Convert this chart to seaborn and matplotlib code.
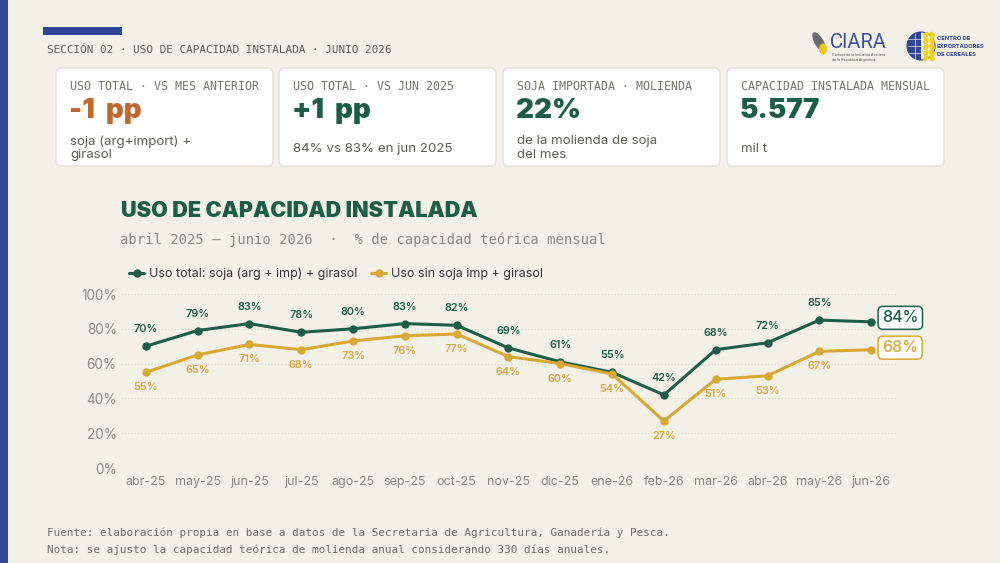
import matplotlib
matplotlib.use("Agg")
import matplotlib.pyplot as plt
import seaborn as sns
import pandas as pd
from matplotlib.patches import FancyBboxPatch, Rectangle, Ellipse, Wedge, Circle

# ---------------- data ----------------
months = ["abr-25", "may-25", "jun-25", "jul-25", "ago-25", "sep-25", "oct-25",
          "nov-25", "dic-25", "ene-26", "feb-26", "mar-26", "abr-26", "may-26", "jun-26"]
uso_total = [70, 79, 83, 78, 80, 83, 82, 69, 61, 55, 42, 68, 72, 85, 84]
uso_sin_imp = [55, 65, 71, 68, 73, 76, 77, 64, 60, 54, 27, 51, 53, 67, 68]
series_names = ["Uso total: soja (arg + imp) + girasol", "Uso sin soja imp + girasol"]
yticks = [0, 20, 40, 60, 80, 100]

kpi_labels = ["USO TOTAL · VS MES ANTERIOR", "USO TOTAL · VS JUN 2025",
              "SOJA IMPORTADA · MOLIENDA", "CAPACIDAD INSTALADA MENSUAL"]
kpi_values = ["-1 pp", "+1 pp", "22%", "5.577"]
kpi_notes = ["soja (arg+import) +\ngirasol", "84% vs 83% en jun 2025",
             "de la molienda de soja\ndel mes", "mil t"]

# ---------------- styling ----------------
BG = "#F3F0E8"
GREEN = "#1C5E45"
GOLD = "#D9A833"
GOLD_TXT = "#D8A842"
ORANGE = "#C0692F"
BLUE = "#2F4596"
MONO = ["DejaVu Sans Mono"]
SANS = ["Inter", "DejaVu Sans"]

sns.set_theme(style="white")
plt.rcParams["font.family"] = SANS

fig = plt.figure(figsize=(10, 5.63), dpi=100, facecolor=BG)

# background/overlay axes in pixel coordinates
bg = fig.add_axes([0, 0, 1, 1], zorder=0)
bg.set_xlim(0, 1000)
bg.set_ylim(563, 0)
bg.axis("off")
bg.set_facecolor(BG)

bg.add_patch(Rectangle((0, 0), 8, 563, color=BLUE, lw=0))
bg.add_patch(Rectangle((43, 27), 79, 8, color=BLUE, lw=0))
bg.text(47, 50, "SECCIÓN 02 · USO DE CAPACIDAD INSTALADA · JUNIO 2026",
        family=MONO, fontsize=7.95, color="#5f5d58", va="center", ha="left")

# KPI cards
card_x = [56, 279, 503, 727]
val_colors = [ORANGE, GREEN, GREEN, GREEN]
for i, x0 in enumerate(card_x):
    bg.add_patch(FancyBboxPatch((x0, 68), 217, 98,
                                boxstyle="round,pad=0,rounding_size=6",
                                facecolor="white", edgecolor="#e4e0d6", lw=1.0))
    bg.text(x0 + 14, 86, kpi_labels[i], family=MONO, fontsize=8.4,
            color="#77756f", va="center", ha="left")
    bg.text(x0 + 13, 111, kpi_values[i].replace(" ", "  "), fontsize=20,
            fontweight="black", color=val_colors[i], va="center", ha="left")
    bg.text(x0 + 14, 148 if "\n" in kpi_notes[i] else 149, kpi_notes[i],
            fontsize=9.6, color="#5f5d58", va="center", ha="left",
            linespacing=1.15)

# Logos (simple approximations)
bg.add_patch(Ellipse((819, 42), 9, 22, angle=-30, color="#6b6b6b", lw=0))
bg.add_patch(Ellipse((823, 49), 8, 11, color="#F2C414", lw=0))
bg.text(830, 43, "CIARA", fontsize=14.5, color="#3A4FA0", va="center", ha="left",
        family=["Roboto", "DejaVu Sans"])
bg.text(832, 55, "Cámara de la Industria Aceitera", fontsize=2.6, color="#555",
        va="center", ha="left")
bg.text(832, 60, "de la República Argentina", fontsize=2.6, color="#555",
        va="center", ha="left")
bg.add_patch(Wedge((921, 46), 14, 90, 270, color="#2F4596", lw=0))
bg.add_patch(Circle((921, 46), 14, fill=False, edgecolor="#2F4596", lw=0.8))
for dy in (-7, 0, 7):
    bg.plot([908, 921], [46 + dy, 46 + dy], color="#e8e4da", lw=0.5)
bg.plot([915, 915], [33, 59], color="#e8e4da", lw=0.5)
for yy in [35, 41, 47, 53, 58]:
    bg.add_patch(Ellipse((926, yy), 5, 7, angle=30, color="#F2D21A", lw=0))
    bg.add_patch(Ellipse((932, yy), 5, 7, angle=-30, color="#F2D21A", lw=0))
for j, t in enumerate(["CENTRO DE", "EXPORTADORES", "DE CEREALES"]):
    bg.text(937, 39 + j * 7.5, t, fontsize=4.2, fontweight="bold",
            color="#2F4596", va="center", ha="left")

# Titles
bg.text(121, 211, "USO DE CAPACIDAD INSTALADA", fontsize=15.6, fontweight="black",
        color=GREEN, va="center", ha="left")
bg.text(120, 240, "abril 2025 – junio 2026  ·  % de capacidad teórica mensual",
        family=MONO, fontsize=10, color="#8c8a84", va="center", ha="left")

# Footer
bg.text(47, 533, "Fuente: elaboración propia en base a datos de la Secretaria de Agricultura, Ganadería y Pesca.",
        family=MONO, fontsize=7.9, color="#6f6d68", va="center", ha="left")
bg.text(47, 550, "Nota: se ajusto la capacidad teórica de molienda anual considerando 330 días anuales.",
        family=MONO, fontsize=7.9, color="#6f6d68", va="center", ha="left")

# ---------------- main chart ----------------
ax = fig.add_axes([121 / 1000, 1 - 468 / 563, (896 - 121) / 1000, (468 - 294) / 563], zorder=2)
ax.patch.set_alpha(0)

df = pd.DataFrame({
    "idx": list(range(len(months))) * 2,
    "mes": months * 2,
    "valor": uso_total + uso_sin_imp,
    "serie": [series_names[0]] * len(months) + [series_names[1]] * len(months),
})
sns.lineplot(data=df, x="idx", y="valor", hue="serie", hue_order=series_names,
             palette={series_names[0]: GREEN, series_names[1]: GOLD},
             marker="o", markersize=6, markeredgewidth=0, linewidth=2.2, ax=ax,
             sort=False)

ax.set_xlim(-0.48, 14.48)
ax.set_ylim(0, 100)
ax.set_xticks(range(len(months)))
ax.set_xticklabels(months)
ax.set_yticks(yticks)
ax.set_yticklabels([f"{v}%" for v in yticks])
ax.tick_params(axis="x", length=0, labelsize=9, labelcolor="#8a8882", pad=6)
ax.tick_params(axis="y", length=0, labelsize=9.8, labelcolor="#8f8d87", pad=3)
ax.set_xlabel("")
ax.set_ylabel("")
for s in ax.spines.values():
    s.set_visible(False)
ax.yaxis.grid(True, linestyle=(0, (1, 2)), color="#d9d5ca", lw=0.8)
ax.set_axisbelow(True)

# data labels
n = len(months)
for i in range(n - 1):
    ax.annotate(f"{uso_total[i]}%", (i, uso_total[i]), xytext=(0, 12),
                textcoords="offset pixels", ha="center", va="bottom",
                fontsize=7.8, fontweight="semibold", color=GREEN)
    ax.annotate(f"{uso_sin_imp[i]}%", (i, uso_sin_imp[i]), xytext=(0, -10),
                textcoords="offset pixels", ha="center", va="top",
                fontsize=7.8, fontweight="semibold", color=GOLD_TXT)

ax.annotate(f"{uso_total[-1]}%", (n - 1, uso_total[-1]), xytext=(11, 4),
            textcoords="offset pixels", ha="left", va="center",
            fontsize=11.5, fontweight="medium", color=GREEN, annotation_clip=False,
            bbox=dict(boxstyle="round,pad=0.25,rounding_size=0.3", fc="white",
                      ec=GREEN, lw=1.1))
ax.annotate(f"{uso_sin_imp[-1]}%", (n - 1, uso_sin_imp[-1]), xytext=(11, 2),
            textcoords="offset pixels", ha="left", va="center",
            fontsize=11.5, fontweight="medium", color=GOLD, annotation_clip=False,
            bbox=dict(boxstyle="round,pad=0.25,rounding_size=0.3", fc="white",
                      ec=GOLD, lw=1.1))

sns.move_legend(ax, loc="center left", bbox_to_anchor=(118 / 1000, 1 - 274 / 563),
                bbox_transform=fig.transFigure, ncol=2, frameon=False, title=None,
                fontsize=9, handlelength=1.2, handletextpad=0.4, columnspacing=1.1,
                labelcolor="#333333")

fig.savefig("out.png", dpi=100, facecolor=BG)
